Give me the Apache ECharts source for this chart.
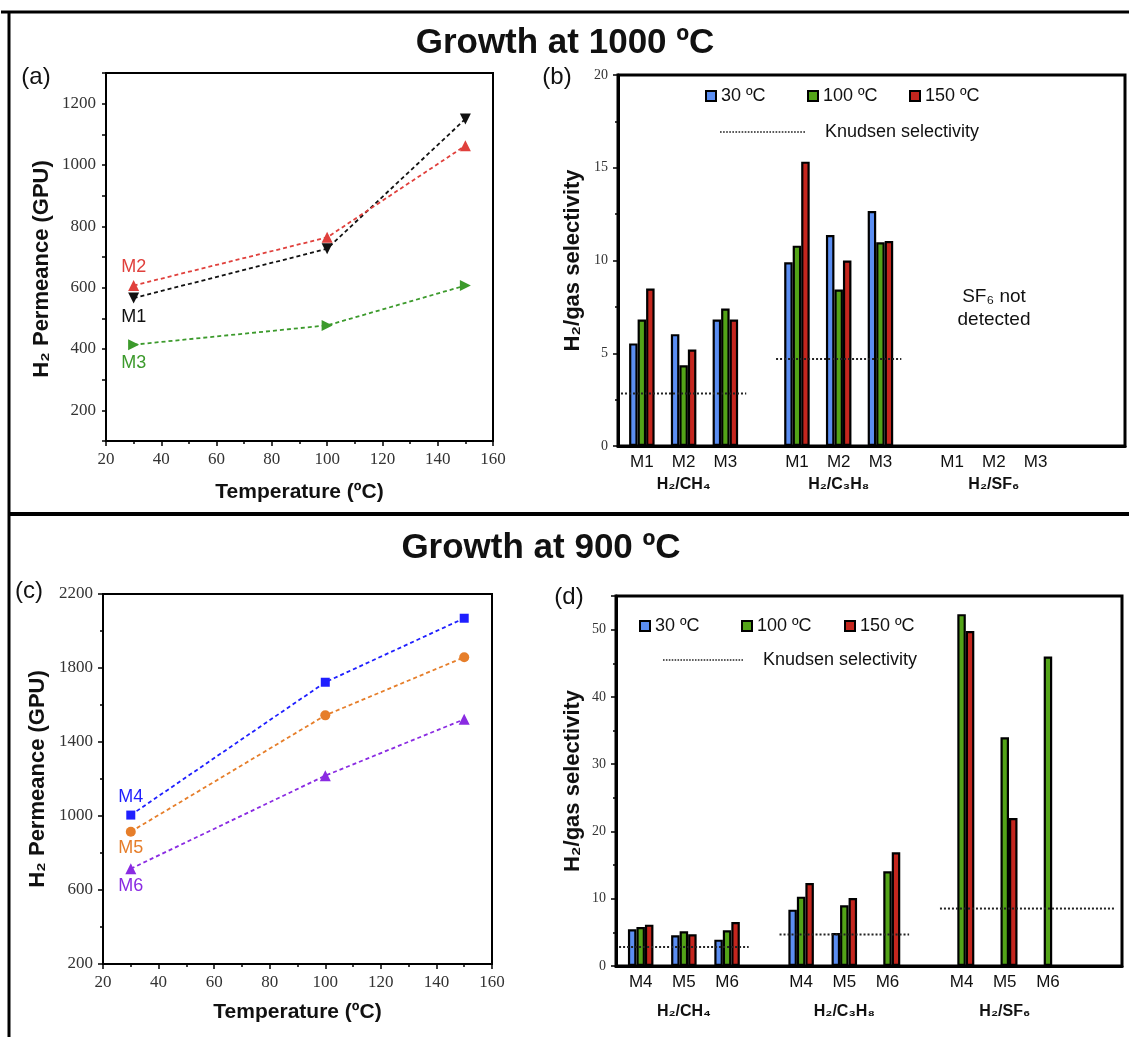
<!DOCTYPE html>
<html><head><meta charset="utf-8">
<script src="https://cdn.jsdelivr.net/npm/echarts@6/dist/echarts.min.js"></script>
<style>html,body{margin:0;padding:0;background:#fff}#chart{width:1129px;height:1037px}</style>
</head><body><div id="chart"></div>
<script>
// ---------- DATA ----------
const TEMPS = [30, 100, 150];
// (a) growth at 1000 ºC – H2 permeance (GPU)
const A_M1 = [566, 727, 1150];
const A_M2 = [607, 764, 1063];
const A_M3 = [414, 477, 607];
// (c) growth at 900 ºC – H2 permeance (GPU)
const C_M4 = [1005, 1723, 2069];
const C_M5 = [915, 1544, 1858];
const C_M6 = [715, 1218, 1523];
// selectivity panels
const GAS_PAIRS = ['H₂/CH₄', 'H₂/C₃H₈', 'H₂/SF₆'];
const B_MEMBRANES = ['M1', 'M2', 'M3'];
const D_MEMBRANES = ['M4', 'M5', 'M6'];
const TEMP_NAMES = ['30 ºC', '100 ºC', '150 ºC'];
// order: CH4 (M1..M3), C3H8 (M1..M3), SF6 (M1..M3)
const B_30  = [5.53, 6.03, 6.82, 9.90, 11.37, 12.67, null, null, null];
const B_100 = [6.82, 4.35, 7.41, 10.80, 8.44, 10.98, null, null, null];
const B_150 = [8.49, 5.20, 6.82, 15.33, 10.00, 11.05, null, null, null];
const D_30  = [5.45, 4.56, 3.92, 8.38, 4.90, null, null, null, null];
const D_100 = [5.80, 5.16, 5.30, 10.31, 9.02, 14.08, 52.3, 34.0, 46.0];
const D_150 = [6.15, 4.71, 6.54, 12.34, 10.10, 16.90, 49.8, 22.0, null];
const KNUDSEN = [2.83, 4.69, 8.54];

// ---------- LAYOUT / STYLE ----------
const SANS = "'Liberation Sans', Arial, Helvetica, sans-serif";
const SERIF = "'Liberation Serif', 'Times New Roman', serif";
const GROUP_STEP = 26, MEMBER_STEP = 7;
const posOf = i => Math.floor(i / 3) * GROUP_STEP + (i % 3) * MEMBER_STEP;
const BAR_COLORS = ['#5b8ef2', '#53a318', '#c4261e'];

function lineSeries(name, values, color, symbol, rotate, size, gi, labelPos, labelDist) {
  return {
    type: 'line', name: name, xAxisIndex: gi, yAxisIndex: gi,
    data: TEMPS.map((t, i) => i === 0 ? {
      value: [t, values[i]],
      label: { show: true, formatter: name, position: labelPos, distance: labelDist,
               color: color, fontSize: 18, fontFamily: SANS }
    } : [t, values[i]]),
    symbol: symbol, symbolRotate: rotate, symbolSize: size,
    itemStyle: { color: color }, lineStyle: { color: color, width: 1.8, type: [4, 3] },
    label: { show: false }, z: 3, silent: true
  };
}
function barSeries(name, values, color, gi) {
  const data = [];
  values.forEach((v, i) => { if (v != null) data.push([posOf(i), v]); });
  return {
    type: 'bar', name: name, xAxisIndex: gi, yAxisIndex: gi, barWidth: 8.5, barGap: '0%',
    data: data, itemStyle: { color: color, borderColor: '#000', borderWidth: 2.2 }, silent: true
  };
}
function knudsenSeries(gi, g, endPad) {
  const k = KNUDSEN[g];
  const x0 = g * GROUP_STEP - 3.5, x1 = g * GROUP_STEP + 2 * MEMBER_STEP + endPad;
  return {
    type: 'line', name: 'Knudsen selectivity', xAxisIndex: gi, yAxisIndex: gi,
    data: [[x0, k], [x1, k]], symbol: 'none', z: 5, silent: true,
    itemStyle: { color: '#222' }, lineStyle: { color: '#222', width: 2, type: [2, 2] }
  };
}
const nameStyle = { fontFamily: SANS, fontWeight: 'bold', fontSize: 22, color: '#111' };
const axLine = w => ({ onZero: false, lineStyle: { color: '#000', width: w } });
const tick = len => ({ length: len, lineStyle: { color: '#000', width: 1.5 } });
const minor = { show: true, splitNumber: 2, length: 3, lineStyle: { color: '#000', width: 1.5 } };

function tempXAxis(gi, gap) {
  return {
    type: 'value', gridIndex: gi, min: 20, max: 160, interval: 20,
    name: 'Temperature (ºC)', nameLocation: 'middle', nameGap: gap,
    nameTextStyle: Object.assign({}, nameStyle, { fontSize: 21 }),
    axisLine: axLine(2), axisTick: tick(5), minorTick: minor,
    splitLine: { show: false },
    axisLabel: { fontFamily: SERIF, fontSize: 17, color: '#333', margin: 10 }
  };
}
function barXAxis(gi, members, max, gLH) {
  const lab = {};
  for (let i = 0; i < 9; i++) {
    const m = i % 3, g = Math.floor(i / 3);
    lab[posOf(i)] = m === 1 ? '{m|' + members[m] + '}\n{g|' + GAS_PAIRS[g] + '}' : '{m|' + members[m] + '}';
  }
  return {
    type: 'value', gridIndex: gi, min: -4, max: max, interval: 1,
    axisLine: axLine(3), axisTick: { show: false }, splitLine: { show: false },
    axisLabel: {
      formatter: v => lab[v] || '', margin: 5,
      rich: {
        m: { fontSize: 17, lineHeight: 22, fontFamily: SANS, color: '#111' },
        g: { fontSize: 16, lineHeight: gLH, fontWeight: 'bold', fontFamily: SANS, color: '#111' }
      }
    }
  };
}
function tempLegend(name, left, top) {
  return {
    show: true, selectedMode: false, data: [name], left: left, top: top, padding: 0,
    itemWidth: 10, itemHeight: 10, icon: 'rect',
    textStyle: { fontSize: 18, fontFamily: SANS, color: '#111' }
  };
}
let dotPath = 'path://';
for (let i = 0; i < 28; i++) dotPath += 'M' + (i * 3) + ',0h1.6v1.6h-1.6z';
function knudsenLegend(left, top, w) {
  return {
    show: true, selectedMode: false, data: ['Knudsen selectivity'], left: left, top: top, padding: 0,
    itemWidth: w, itemHeight: 2, icon: dotPath, itemStyle: { color: '#222', borderWidth: 0 },
    formatter: n => '   ' + n,
    textStyle: { fontSize: 18, fontFamily: SANS, color: '#111' }
  };
}
function txt(text, x, y, size, weight) {
  return {
    type: 'text', x: x, y: y, silent: true,
    style: { text: text, fill: '#111', fontSize: size, fontWeight: weight || 'normal', fontFamily: SANS,
             align: 'center', verticalAlign: 'middle', textAlign: 'center', textVerticalAlign: 'middle',
             lineHeight: size * 1.2 }
  };
}
function ln(x1, y1, x2, y2, w) {
  return { type: 'line', silent: true, shape: { x1: x1, y1: y1, x2: x2, y2: y2 }, style: { stroke: '#000', lineWidth: w } };
}
const plain = v => String(v);

const option = {
  backgroundColor: '#fff',
  animation: false,
  grid: [
    { left: 106, top: 73, width: 387, height: 368, show: true, borderColor: '#000', borderWidth: 2 },
    { left: 618, top: 75, width: 507, height: 371, show: true, borderColor: '#000', borderWidth: 3 },
    { left: 103, top: 594, width: 389, height: 370, show: true, borderColor: '#000', borderWidth: 2 },
    { left: 616, top: 596, width: 506, height: 370, show: true, borderColor: '#000', borderWidth: 3 }
  ],
  xAxis: [
    tempXAxis(0, 41),
    barXAxis(1, B_MEMBRANES, 81, 24),
    tempXAxis(2, 38),
    barXAxis(3, D_MEMBRANES, 78, 38)
  ],
  yAxis: [
    {
      type: 'value', gridIndex: 0, min: 100, max: 1300, interval: 100,
      name: 'H₂ Permeance (GPU)', nameLocation: 'middle', nameGap: 53,
      nameTextStyle: Object.assign({}, nameStyle, { padding: [0, 24, 0, 0] }),
      axisLine: axLine(2), axisTick: tick(4), splitLine: { show: false },
      axisLabel: { fontFamily: SERIF, fontSize: 17, color: '#333', margin: 10,
                   formatter: v => (v % 200 === 0 ? String(v) : '') }
    },
    {
      type: 'value', gridIndex: 1, min: 0, max: 20, interval: 5,
      name: 'H₂/gas selectivity', nameLocation: 'middle', nameGap: 34, nameTextStyle: nameStyle,
      axisLine: axLine(3), axisTick: tick(5), minorTick: minor,
      splitLine: { show: false },
      axisLabel: { fontFamily: SERIF, fontSize: 14, color: '#333', margin: 10, formatter: plain }
    },
    {
      type: 'value', gridIndex: 2, min: 200, max: 2200, interval: 400,
      name: 'H₂ Permeance (GPU)', nameLocation: 'middle', nameGap: 54, nameTextStyle: nameStyle,
      axisLine: axLine(2), axisTick: tick(5), minorTick: minor,
      splitLine: { show: false },
      axisLabel: { fontFamily: SERIF, fontSize: 17, color: '#333', margin: 10, formatter: plain }
    },
    {
      type: 'value', gridIndex: 3, min: 0, max: 55, interval: 10,
      name: 'H₂/gas selectivity', nameLocation: 'middle', nameGap: 32, nameTextStyle: nameStyle,
      axisLine: axLine(3), axisTick: tick(5), minorTick: minor,
      splitLine: { show: false },
      axisLabel: { fontFamily: SERIF, fontSize: 14, color: '#333', margin: 10,
                   formatter: v => (v % 10 === 0 ? String(v) : '') }
    }
  ],
  legend: [
    tempLegend(TEMP_NAMES[0], 705, 87), tempLegend(TEMP_NAMES[1], 807, 87), tempLegend(TEMP_NAMES[2], 909, 87),
    knudsenLegend(720, 123, 85),
    tempLegend(TEMP_NAMES[0], 639, 617), tempLegend(TEMP_NAMES[1], 741, 617), tempLegend(TEMP_NAMES[2], 844, 617),
    knudsenLegend(663, 651, 80)
  ],
  series: [
    lineSeries('M1', A_M1, '#111111', 'triangle', 180, 11, 0, 'bottom', 4),
    lineSeries('M2', A_M2, '#e0403c', 'triangle', 0, 11, 0, 'top', 4),
    lineSeries('M3', A_M3, '#3c9a2c', 'triangle', -90, 11, 0, 'bottom', 4),
    lineSeries('M4', C_M4, '#1f1fff', 'rect', 0, 9, 2, 'top', 5),
    lineSeries('M5', C_M5, '#e67e2a', 'circle', 0, 10, 2, 'bottom', 2),
    lineSeries('M6', C_M6, '#8a2be2', 'triangle', 0, 11, 2, 'bottom', 3),
    barSeries(TEMP_NAMES[0], B_30, BAR_COLORS[0], 1),
    barSeries(TEMP_NAMES[1], B_100, BAR_COLORS[1], 1),
    barSeries(TEMP_NAMES[2], B_150, BAR_COLORS[2], 1),
    knudsenSeries(1, 0, 3.5), knudsenSeries(1, 1, 3.5),
    barSeries(TEMP_NAMES[0], D_30, BAR_COLORS[0], 3),
    barSeries(TEMP_NAMES[1], D_100, BAR_COLORS[1], 3),
    barSeries(TEMP_NAMES[2], D_150, BAR_COLORS[2], 3),
    knudsenSeries(3, 0, 3.5), knudsenSeries(3, 1, 3.5), knudsenSeries(3, 2, 11)
  ],
  graphic: [
    ln(1, 12, 1129, 12, 3),
    ln(9, 11, 9, 1037, 3),
    ln(9, 514, 1129, 514, 4),
    txt('Growth at 1000 ºC', 565, 43, 35, 'bold'),
    txt('Growth at 900 ºC', 541, 548, 35, 'bold'),
    txt('(a)', 36, 77, 24),
    txt('(b)', 557, 77, 24),
    txt('(c)', 29, 591, 24),
    txt('(d)', 569, 597, 24),
    txt('SF₆ not\ndetected', 994, 308, 19)
  ]
};
const chart = echarts.init(document.getElementById('chart'), null, { renderer: 'canvas' });
chart.setOption(option);
</script></body></html>
